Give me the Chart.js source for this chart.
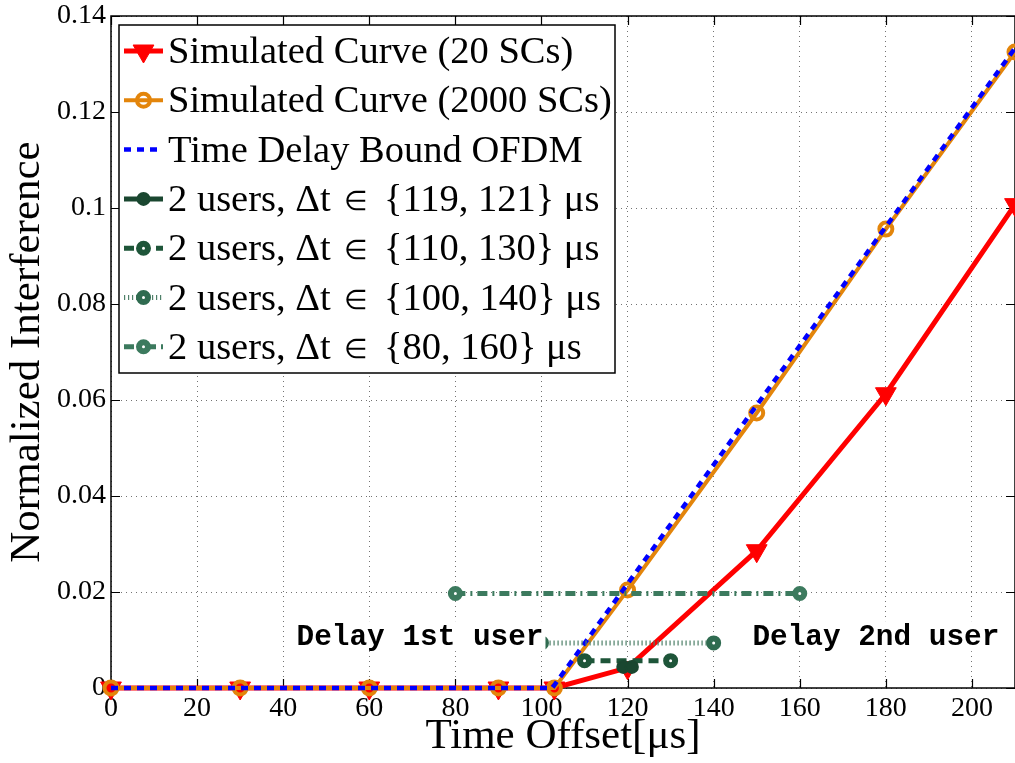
<!DOCTYPE html>
<html>
<head>
<meta charset="utf-8">
<script src="https://cdn.jsdelivr.net/npm/chart.js@4.4.0/dist/chart.umd.min.js"></script>
<style>
  html, body { margin: 0; padding: 0; background: #fff; }
</style>
</head>
<body>
<canvas id="chart" width="1015" height="763"></canvas>
<script>
// simulated curves, time offset in µs
const simTime = [0, 30, 60, 90, 103, 120, 150, 180, 210];
const sim20 = [0, 0, 0, 0, 0, 0.0042, 0.0286, 0.0613, 0.1007];
const sim2000 = [0, 0, 0, 0, 0, 0.0204, 0.0573, 0.0956, 0.1325];

// analytic bound
const boundTime = [0, 102.5, 210];
const boundVal = [0, 0, 0.1333];

// two-user cases
const u1Time = [119, 121];
const u1Val = [0.0044, 0.0044];
const u2Time = [110, 130];
const u2Val = [0.0057, 0.0057];
const u3Time = [100, 140];
const u3Val = [0.0094, 0.0094];
const u4Time = [80, 160];
const u4Val = [0.0197, 0.0197];

const xTicks = [0, 20, 40, 60, 80, 100, 120, 140, 160, 180, 200];
const yTicks = [0, 0.02, 0.04, 0.06, 0.08, 0.1, 0.12, 0.14];

const labels = [
    'Simulated Curve (20 SCs)',
    'Simulated Curve (2000 SCs)',
    'Time Delay Bound OFDM',
    '2 users, \u0394t \u2208 {119, 121} \u03bcs',
    '2 users, \u0394t \u2208 {110, 130} \u03bcs',
    '2 users, \u0394t \u2208 {100, 140} \u03bcs',
    '2 users, \u0394t \u2208 {80, 160} \u03bcs'
];

const SERIF = '"Liberation Serif", "Times New Roman", serif';

function pts(xs, ys) {
    return xs.map((v, i) => ({ x: v, y: ys[i] }));
}

// frame and inward ticks
const framePlugin = {
    id: 'frame',
    beforeDatasetsDraw(chart) {
        const { ctx, chartArea: a, scales: { x, y } } = chart;
        ctx.save();
        ctx.strokeStyle = '#000';
        ctx.lineWidth = 1.5;
        ctx.strokeRect(a.left, a.top, a.right - a.left, a.bottom - a.top);
        ctx.lineWidth = 1.2;
        ctx.beginPath();
        xTicks.forEach(v => {
            const px = Math.round(x.getPixelForValue(v)) + 0.5;
            ctx.moveTo(px, a.bottom); ctx.lineTo(px, a.bottom - 9);
            ctx.moveTo(px, a.top); ctx.lineTo(px, a.top + 9);
        });
        yTicks.forEach(v => {
            const py = Math.round(y.getPixelForValue(v)) + 0.5;
            ctx.moveTo(a.left, py); ctx.lineTo(a.left + 9, py);
            ctx.moveTo(a.right, py); ctx.lineTo(a.right - 9, py);
        });
        ctx.stroke();
        ctx.restore();
    }
};

function marker(ctx, ds, cx, cy) {
    if (!ds.pointRadius) return;
    ctx.save();
    ctx.setLineDash([]);
    ctx.lineWidth = ds.pointBorderWidth;
    ctx.fillStyle = ds.pointBackgroundColor;
    ctx.strokeStyle = ds.pointBorderColor;
    Chart.helpers.drawPoint(ctx, {
        pointStyle: ds.pointStyle || 'circle',
        rotation: ds.pointRotation || 0,
        radius: ds.pointRadius,
        borderWidth: ds.pointBorderWidth
    }, cx, cy);
    ctx.restore();
}

// legend text with a smaller "element of" sign
function legendText(ctx, text, x, y) {
    const parts = text.split('\u2208');
    ctx.font = '38.5px ' + SERIF;
    ctx.fillText(parts[0], x, y);
    if (parts.length < 2) return;
    x += ctx.measureText(parts[0]).width + 4;
    ctx.font = '27px ' + SERIF;
    ctx.fillText('\u2208', x, y + 2);
    x += ctx.measureText('\u2208').width + 6;
    ctx.font = '38.5px ' + SERIF;
    ctx.fillText(parts[1], x, y);
}

// legend box in the upper left corner + text notes
const notesPlugin = {
    id: 'notes',
    afterDatasetsDraw(chart) {
        const { ctx, scales: { x, y } } = chart;
        ctx.save();

        // notes with white background
        ctx.font = 'bold 29.4px "Liberation Mono", "Courier New", monospace';
        ctx.textBaseline = 'middle';
        const ny = y.getPixelForValue(0.0108);
        const t1 = 'Delay 1st user';
        const w1 = ctx.measureText(t1).width;
        const r1 = x.getPixelForValue(100) + 2;
        ctx.fillStyle = '#fff';
        ctx.fillRect(r1 - w1 - 2, ny - 15, w1 + 4, 30);
        ctx.fillStyle = '#000';
        ctx.textAlign = 'right';
        ctx.fillText(t1, r1, ny + 1);

        const t2 = 'Delay 2nd user';
        const w2 = ctx.measureText(t2).width;
        const l2 = x.getPixelForValue(149);
        ctx.fillStyle = '#fff';
        ctx.fillRect(l2 - 2, ny - 15, w2 + 4, 30);
        ctx.fillStyle = '#000';
        ctx.textAlign = 'left';
        ctx.fillText(t2, l2, ny + 1);

        // legend
        const bx = 119, by = 25, bw = 496, bh = 348;
        ctx.fillStyle = '#fff';
        ctx.fillRect(bx, by, bw, bh);
        ctx.strokeStyle = '#000';
        ctx.lineWidth = 1.5;
        ctx.strokeRect(bx, by, bw, bh);

        ctx.textAlign = 'left';
        ctx.textBaseline = 'middle';
        chart.data.datasets.forEach((ds, i) => {
            const cy = 51 + i * 49.3;
            ctx.save();
            ctx.strokeStyle = ds.borderColor;
            ctx.lineWidth = ds.borderWidth;
            ctx.setLineDash(ds.borderDash || []);
            ctx.beginPath();
            ctx.moveTo(124, cy);
            ctx.lineTo(163, cy);
            ctx.stroke();
            ctx.restore();
            marker(ctx, ds, 143.5, cy);
            ctx.fillStyle = '#000';
            legendText(ctx, ds.label, 168, cy + 2);
        });
        ctx.restore();
    }
};

const ctx = document.getElementById('chart').getContext('2d');
new Chart(ctx, {
    type: 'line',
    data: {
        datasets: [
            {
                label: labels[0],
                data: pts(simTime, sim20),
                borderColor: '#ff0000',
                borderWidth: 5,
                pointStyle: 'triangle',
                pointRotation: 180,
                pointRadius: 12,
                pointBorderWidth: 1,
                pointBackgroundColor: '#ff0000',
                pointBorderColor: '#ff0000',
                order: 7
            },
            {
                label: labels[1],
                data: pts(simTime, sim2000),
                borderColor: '#e3850b',
                borderWidth: 4,
                pointStyle: 'circle',
                pointRadius: 6.5,
                pointBorderWidth: 4,
                pointBackgroundColor: 'rgba(255,255,255,0)',
                pointBorderColor: '#e3850b',
                order: 6
            },
            {
                label: labels[2],
                data: pts(boundTime, boundVal),
                borderColor: '#0000ff',
                borderWidth: 4.5,
                borderDash: [7, 6],
                pointRadius: 0,
                order: 5
            },
            {
                label: labels[3],
                data: pts(u1Time, u1Val),
                borderColor: '#1a4730',
                borderWidth: 5,
                pointRadius: 6,
                pointBorderWidth: 2,
                pointBackgroundColor: '#1a4730',
                pointBorderColor: '#1a4730',
                order: 1
            },
            {
                label: labels[4],
                data: pts(u2Time, u2Val),
                borderColor: '#1e5539',
                borderWidth: 5,
                borderDash: [10, 6],
                pointRadius: 4.5,
                pointBorderWidth: 6,
                pointBackgroundColor: '#ffffff',
                pointBorderColor: '#1e5539',
                order: 2
            },
            {
                label: labels[5],
                data: pts(u3Time, u3Val),
                borderColor: '#4f8069',
                borderWidth: 5,
                borderDash: [1.2, 2.8],
                pointRadius: 4.5,
                pointBorderWidth: 6,
                pointBackgroundColor: '#ffffff',
                pointBorderColor: '#2f6b50',
                order: 3
            },
            {
                label: labels[6],
                data: pts(u4Time, u4Val),
                borderColor: '#3c7a5e',
                borderWidth: 5,
                borderDash: [10, 5, 2, 5],
                pointRadius: 4.5,
                pointBorderWidth: 6,
                pointBackgroundColor: '#ffffff',
                pointBorderColor: '#3c7a5e',
                order: 4
            }
        ]
    },
    options: {
        responsive: false,
        animation: false,
        devicePixelRatio: 1,
        clip: false,
        layout: { autoPadding: false, padding: { top: 16, right: 0, left: 0, bottom: 0 } },
        plugins: {
            legend: { display: false },
            tooltip: { enabled: false }
        },
        elements: {
            line: { tension: 0, fill: false, borderCapStyle: 'butt' }
        },
        scales: {
            x: {
                type: 'linear',
                min: 0,
                max: 210,
                afterBuildTicks: s => { s.ticks = xTicks.map(v => ({ value: v })); },
                afterFit: s => { s.height = 75; s.paddingRight = 0; s.paddingLeft = 0; },
                ticks: {
                    padding: 4,
                    color: '#000',
                    font: { family: SERIF, size: 28 },
                    maxRotation: 0,
                    callback: v => String(v)
                },
                grid: {
                    color: 'rgba(0,0,0,0.55)',
                    lineWidth: 1,
                    drawTicks: false
                },
                border: { display: false, dash: [1, 4] },
                title: {
                    display: true,
                    text: 'Time Offset[\u03bcs]',
                    color: '#000',
                    font: { family: SERIF, size: 43 },
                    padding: { top: 0, bottom: 0 }
                }
            },
            y: {
                type: 'linear',
                min: 0,
                max: 0.14,
                afterBuildTicks: s => { s.ticks = yTicks.map(v => ({ value: v })); },
                afterFit: s => { s.width = 111; s.paddingTop = 0; s.paddingBottom = 0; },
                ticks: {
                    padding: 5,
                    color: '#000',
                    font: { family: SERIF, size: 28 },
                    callback: v => String(+v.toFixed(2))
                },
                grid: {
                    color: 'rgba(0,0,0,0.55)',
                    lineWidth: 1,
                    drawTicks: false
                },
                border: { display: false, dash: [1, 4] },
                title: {
                    display: true,
                    text: 'Normalized Interference',
                    color: '#000',
                    font: { family: SERIF, size: 43 },
                    padding: { top: 2, bottom: 0 }
                }
            }
        }
    },
    plugins: [framePlugin, notesPlugin]
});
</script>
</body>
</html>
